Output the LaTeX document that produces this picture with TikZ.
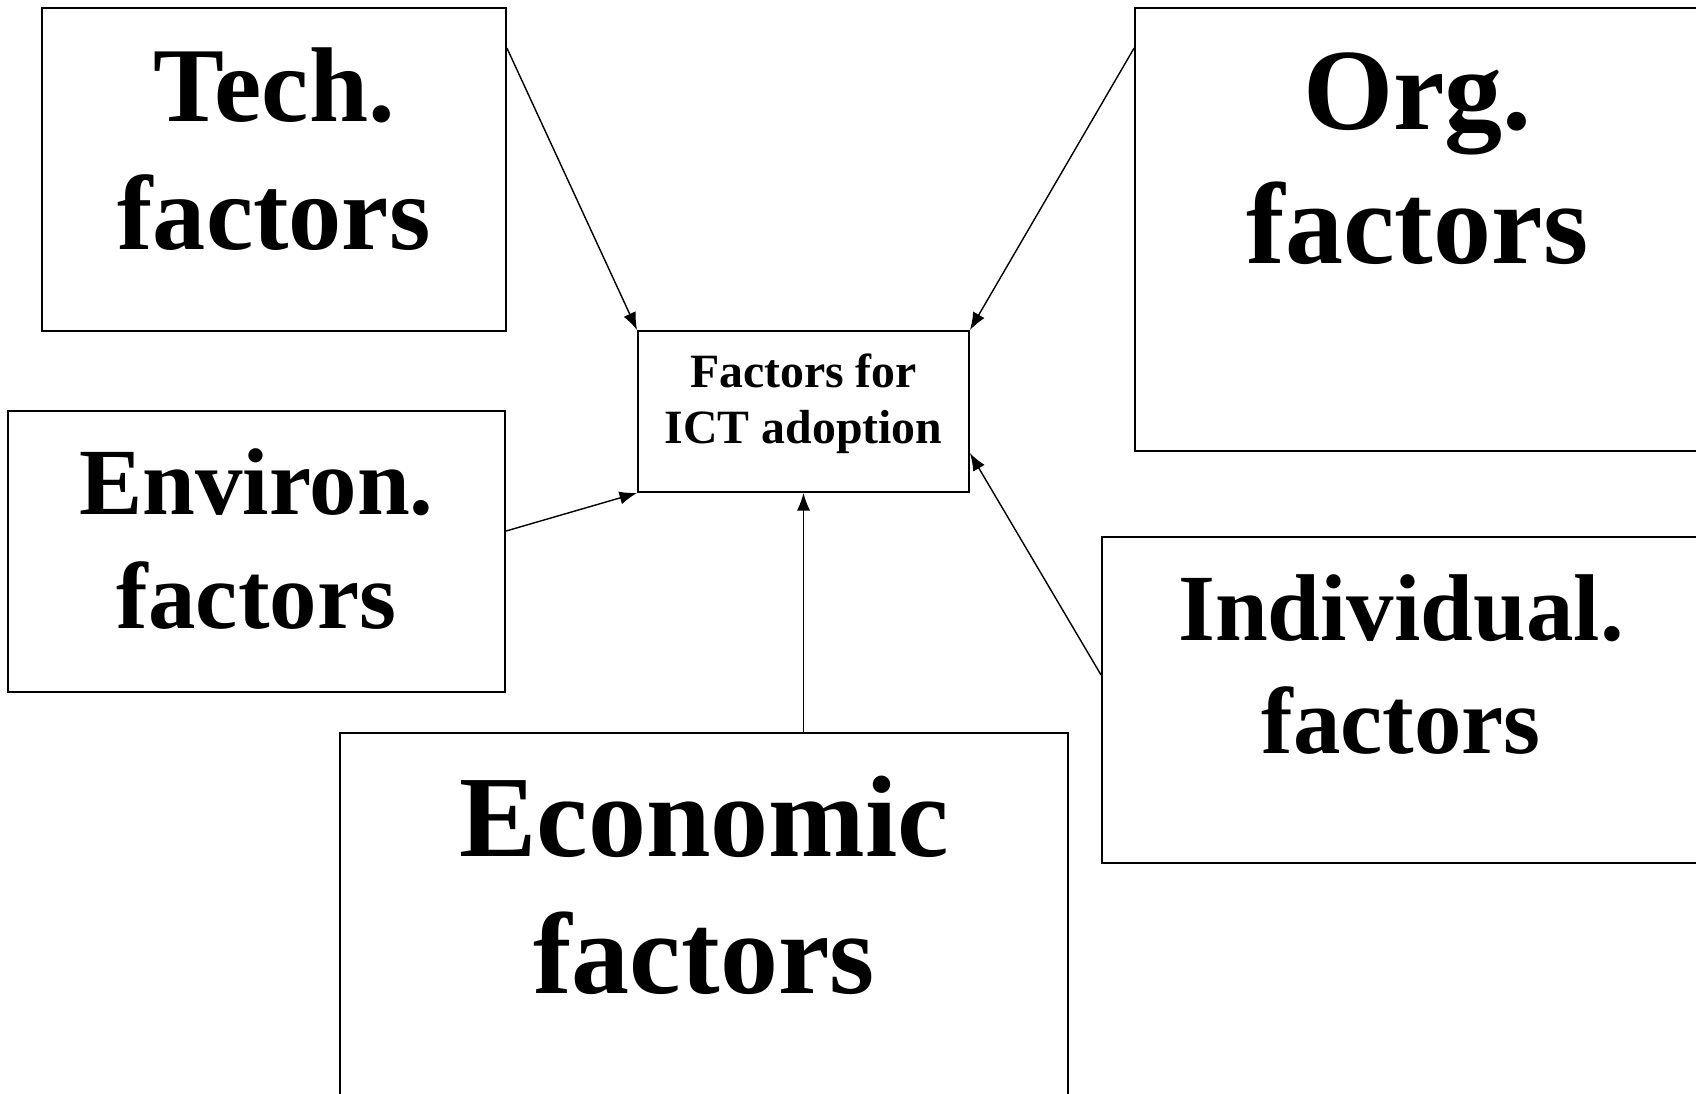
\documentclass[tikz,border=0pt]{standalone}
\usepackage{fontspec}
\setmainfont{Liberation Serif}
\usetikzlibrary{arrows.meta,calc}

\begin{document}
\begin{tikzpicture}[x=0.02cm, y=-0.02cm,
    box/.style={draw, line width=1.1pt, inner sep=0pt},
    txt/.style={anchor=north, align=center, inner sep=0pt},
    link/.style={-{Latex[length=10pt,width=7.5pt]}, line width=0.8pt}] % 1 unit = 1px

  \useasboundingbox (0,0) rectangle (1696,1094);

  % boxes
  \node[box, minimum width=6.62cm, minimum height=3.22cm] (ictf) at (803.5,411.5) {};
  \node[box, minimum width=9.28cm, minimum height=6.46cm] (tech) at (274,169.5) {};
  \node[box, minimum width=11.3cm, minimum height=8.86cm] (org) at (1417.5,229.5) {};
  \node[box, minimum width=9.94cm, minimum height=5.62cm] (env) at (256.5,551.5) {};
  \node[box, minimum width=11.96cm, minimum height=6.52cm] (indiv) at (1401,700) {};
  \node[box, minimum width=14.56cm, minimum height=7.34cm] (econ) at (704,916.5) {};

  % texts
  \node[txt, font=\bfseries\fontsize{27.2}{32.3}\selectfont] (ictftxt) at ($(ictf.north)+(0,23)$) {Factors for\\ICT adoption};
  \node[txt, font=\bfseries\fontsize{60.5}{73}\selectfont] (techtxt) at ($(tech.north)+(0,40)$) {Tech.\\factors};
  \node[txt, font=\bfseries\fontsize{66}{76.5}\selectfont] (orgtxt) at ($(org.north)+(0,45)$) {Org.\\factors};
  \node[txt, font=\bfseries\fontsize{54}{65.2}\selectfont] (envtxt) at ($(env.north)+(0,38)$) {Environ.\\factors};
  \node[txt, font=\bfseries\fontsize{54}{64.6}\selectfont] (indivtxt) at ($(indiv.north)+(0,38)$) {Individual.\\factors};
  \node[txt, font=\bfseries\fontsize{66}{77.7}\selectfont] (econtxt) at ($(econ.north)+(0,44)$) {Economic\\factors};

  % links
  \draw[link] ($(tech.north east)+(0,41)$) -- (ictf.north west);
  \draw[link] ($(org.north west)+(0,41)$) -- (ictf.north east);
  \draw[link] ($(env.north east)+(0,121)$) -- (ictf.south west);
  \draw[link] (ictf.south |- econ.north) -- (ictf.south);
  \draw[link] ($(indiv.north west)+(0,139)$) -- ($(ictf.north east)+(0,123)$);
\end{tikzpicture}
\end{document}
